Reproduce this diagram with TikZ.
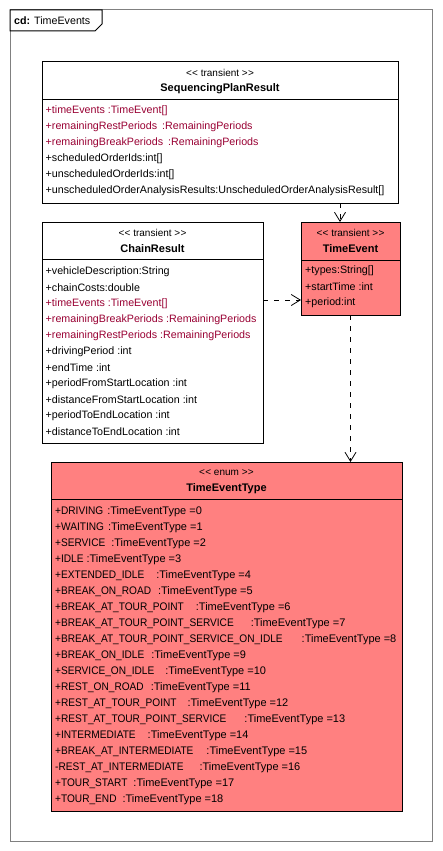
\documentclass[tikz,border=0pt]{standalone}
\usepackage{fontspec}
\usepackage{graphicx}
\setmainfont{Liberation Sans}
\usetikzlibrary{arrows.meta}
\definecolor{attrred}{RGB}{153,0,51}
\definecolor{umlpink}{RGB}{255,128,128}
\definecolor{framegray}{RGB}{128,128,128}
\newcommand\tev[3]{\scalebox{0.92}[1]{#1}\hspace{#2pt}:TimeEventType =#3}
\newcommand\stlt{<\kern0.3pt<}
\newcommand\stgt{>\kern0.3pt>}
\begin{document}
\begin{tikzpicture}[x=1pt,y=-1pt,
  box/.style={draw=black, line width=1pt, anchor=north west, inner sep=0pt, outer sep=0pt},
  stereo/.style={font=\fontsize{10}{12}\selectfont, inner sep=0pt},
  cname/.style={font=\fontsize{11}{13}\selectfont\bfseries, inner sep=0pt},
  attr/.style={font=\fontsize{10.7}{13}\selectfont, anchor=west, inner sep=0pt},
  eattr/.style={font=\fontsize{11}{13}\selectfont, anchor=west, inner sep=0pt},
  red/.style={text=attrred},
  dep/.style={draw=black, line width=0.8pt, dash pattern=on 5pt off 6pt, -{Straight Barb[length=9pt, width=11pt, line width=0.8pt]}}
]
\useasboundingbox (0,0) rectangle (442,851);
% frame
\draw[framegray, line width=1pt] (10,10) rectangle (432,841);
\draw[black, line width=1pt, fill=white] (10,10) -- (102,10) -- (102,24) -- (95,31) -- (10,31) -- cycle;
\node[attr] (title) at (14,20.5) {\textbf{cd:} TimeEvents};

% SequencingPlanResult
\node[box, fill=white, minimum width=356pt, minimum height=141pt] (spr) at (42,62) {};
\draw[line width=1pt] (spr.west |- 0,99) -- (spr.east |- 0,99);
\node[stereo] (sprst) at (220,73) {\stlt{} transient \stgt};
\node[cname] (sprn) at (220,89) {SequencingPlanResult};
\node[attr, red] (spr1) at (45.5,111) {+timeEvents :TimeEvent[]};
\node[attr, red] (spr2) at (45.5,127) {+remainingRestPeriods\hspace{5pt}:RemainingPeriods};
\node[attr, red] (spr3) at (45.5,143) {+remainingBreakPeriods\hspace{5pt}:RemainingPeriods};
\node[attr] (spr4) at (45.5,159) {+scheduledOrderIds:int[]};
\node[attr] (spr5) at (45.5,175) {+unscheduledOrderIds:int[]};
\node[attr] (spr6) at (45.5,191) {+unscheduledOrderAnalysisResults:UnscheduledOrderAnalysisResult[]};

% ChainResult
\node[box, fill=white, minimum width=221pt, minimum height=221pt] (cr) at (42,222) {};
\draw[line width=1pt] (cr.west |- 0,259) -- (cr.east |- 0,259);
\node[stereo] (crst) at (152.5,233) {\stlt{} transient \stgt};
\node[cname] (crn) at (152.5,249) {ChainResult};
\node[attr] (cr1) at (45.5,272) {+vehicleDescription:String};
\node[attr] (cr2) at (45.5,288) {+chainCosts:double};
\node[attr, red] (cr3) at (45.5,304) {+timeEvents :TimeEvent[]};
\node[attr, red] (cr4) at (45.5,320) {+remainingBreakPeriods :RemainingPeriods};
\node[attr, red] (cr5) at (45.5,336) {+remainingRestPeriods :RemainingPeriods};
\node[attr] (cr6) at (45.5,352) {+drivingPeriod :int};
\node[attr] (cr7) at (45.5,368) {+endTime :int};
\node[attr] (cr8) at (45.5,384) {+periodFromStartLocation :int};
\node[attr] (cr9) at (45.5,400) {+distanceFromStartLocation :int};
\node[attr] (cr10) at (45.5,416) {+periodToEndLocation :int};
\node[attr] (cr11) at (45.5,432) {+distanceToEndLocation :int};

% TimeEvent
\node[box, fill=umlpink, minimum width=99pt, minimum height=93pt] (te) at (301,222) {};
\draw[line width=1pt] (te.west |- 0,260) -- (te.east |- 0,260);
\node[stereo] (test) at (350.5,232.5) {\stlt{} transient \stgt};
\node[cname] (ten) at (350.5,249) {TimeEvent};
\node[attr] (te1) at (305,271) {+types:String[]};
\node[attr] (te2) at (305,287) {+startTime :int};
\node[attr] (te3) at (305,303) {+period:int};

% TimeEventType
\node[box, fill=umlpink, minimum width=351pt, minimum height=349pt] (tet) at (51,462) {};
\draw[line width=1pt] (tet.west |- 0,499) -- (tet.east |- 0,499);
\node[stereo] (tetst) at (226.5,473) {\stlt{} enum \stgt};
\node[cname] (tetn) at (226.5,489) {TimeEventType};
\node[eattr] (e0) at (55,512) {\tev{+DRIVING}{4}{0}};
\node[eattr] (e1) at (55,528) {\tev{+WAITING}{4}{1}};
\node[eattr] (e2) at (55,544) {\tev{+SERVICE}{6}{2}};
\node[eattr] (e3) at (55,560) {\tev{+IDLE}{3}{3}};
\node[eattr] (e4) at (55,576) {\tev{+EXTENDED\_IDLE}{12}{4}};
\node[eattr] (e5) at (55,592) {\tev{+BREAK\_ON\_ROAD}{7}{5}};
\node[eattr] (e6) at (55,608) {\tev{+BREAK\_AT\_TOUR\_POINT}{12}{6}};
\node[eattr] (e7) at (55,624) {\tev{+BREAK\_AT\_TOUR\_POINT\_SERVICE}{17}{7}};
\node[eattr] (e8) at (55,640) {\tev{+BREAK\_AT\_TOUR\_POINT\_SERVICE\_ON\_IDLE}{19}{8}};
\node[eattr] (e9) at (55,656) {\tev{+BREAK\_ON\_IDLE}{7}{9}};
\node[eattr] (e10) at (55,672) {\tev{+SERVICE\_ON\_IDLE}{11}{10}};
\node[eattr] (e11) at (55,688) {\tev{+REST\_ON\_ROAD}{7}{11}};
\node[eattr] (e12) at (55,704) {\tev{+REST\_AT\_TOUR\_POINT}{11}{12}};
\node[eattr] (e13) at (55,720) {\tev{+REST\_AT\_TOUR\_POINT\_SERVICE}{18}{13}};
\node[eattr] (e14) at (55,736) {\tev{+INTERMEDIATE}{12}{14}};
\node[eattr] (e15) at (55,752) {\tev{+BREAK\_AT\_INTERMEDIATE}{13}{15}};
\node[eattr] (e16) at (55,768) {\tev{-REST\_AT\_INTERMEDIATE}{16}{16}};
\node[eattr] (e17) at (55,784) {\tev{+TOUR\_START}{6}{17}};
\node[eattr] (e18) at (55,800) {\tev{+TOUR\_END}{6}{18}};

% dependencies
\draw[dep] (spr.south -| 340,0) -- (te.north -| 340,0);
\draw[dep] (cr.east |- 0,300) -- (te.west |- 0,300);
\draw[dep] (te.south) -- (te.south |- tet.north);
\end{tikzpicture}
\end{document}
